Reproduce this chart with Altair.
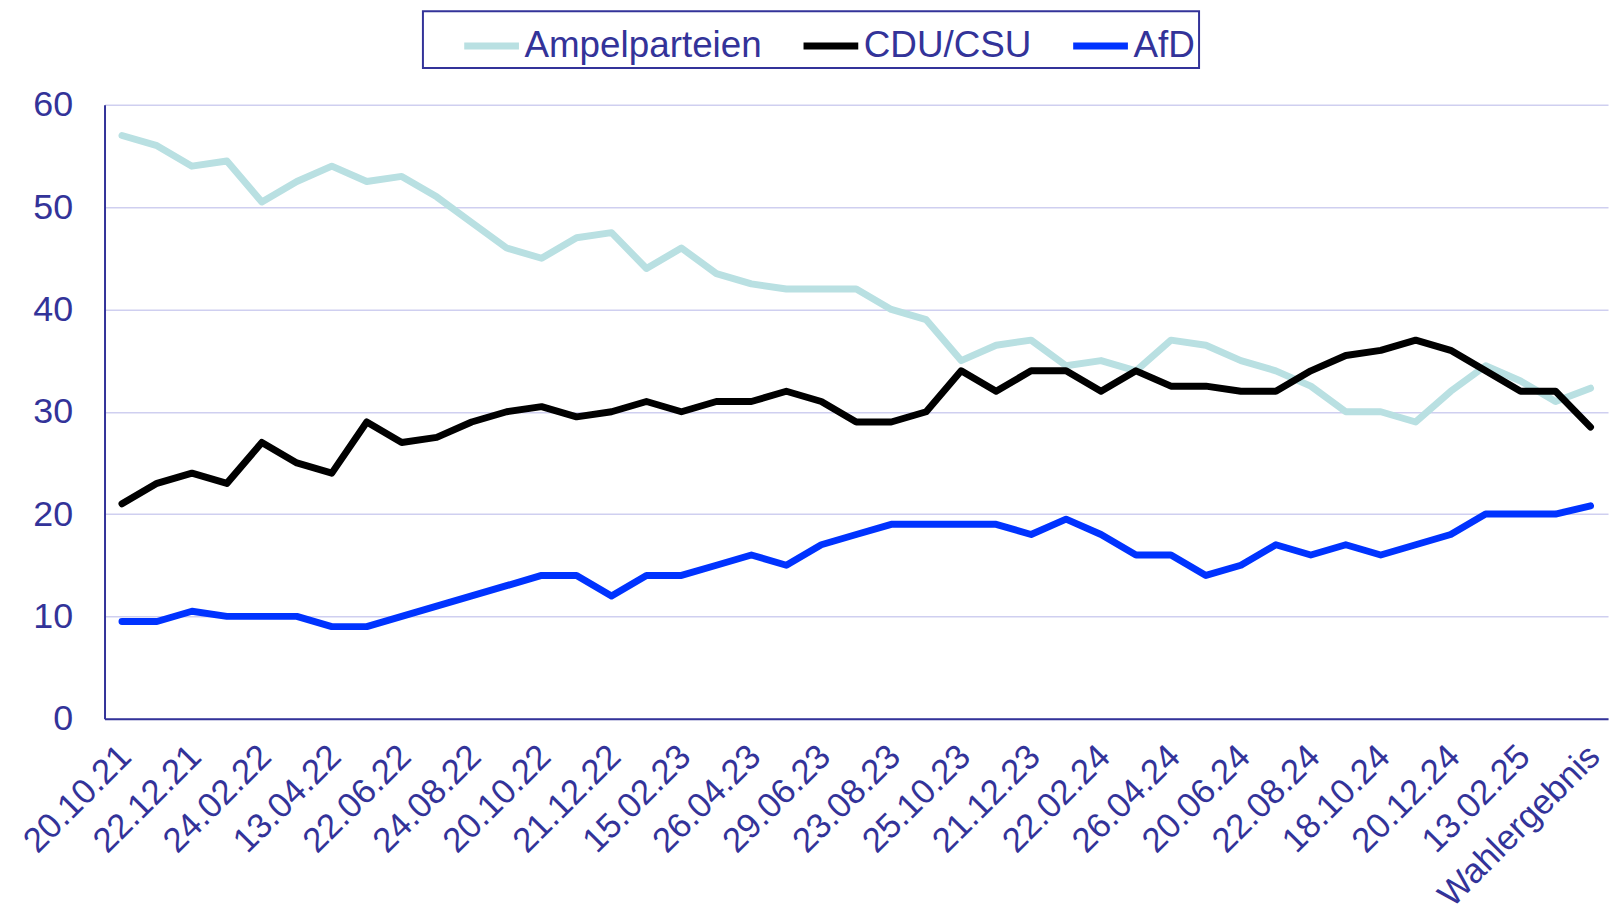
import altair as alt
import pandas as pd

tick_labels = ["20.10.21", "22.12.21", "24.02.22", "13.04.22", "22.06.22", "24.08.22",
               "20.10.22", "21.12.22", "15.02.23", "26.04.23", "29.06.23", "23.08.23",
               "25.10.23", "21.12.23", "22.02.24", "26.04.24", "20.06.24", "22.08.24",
               "18.10.24", "20.12.24", "13.02.25", "Wahlergebnis"]

ampel = [57, 56, 54, 54.5, 50.5, 52.5, 54, 52.5, 53, 51, 48.5, 46, 45, 47, 47.5, 44, 46,
         43.5, 42.5, 42, 42, 42, 40, 39, 35, 36.5, 37, 34.5, 35, 34, 37, 36.5, 35, 34,
         32.5, 30, 30, 29, 32, 34.5, 33, 31, 32.3]
cdu = [21, 23, 24, 23, 27, 25, 24, 29, 27, 27.5, 29, 30, 30.5, 29.5, 30, 31, 30, 31, 31,
       32, 31, 29, 29, 30, 34, 32, 34, 34, 32, 34, 32.5, 32.5, 32, 32, 34, 35.5, 36, 37,
       36, 34, 32, 32, 28.5]
afd = [9.5, 9.5, 10.5, 10, 10, 10, 9, 9, 10, 11, 12, 13, 14, 14, 12, 14, 14, 15, 16, 15,
       17, 18, 19, 19, 19, 19, 18, 19.5, 18, 16, 16, 14, 15, 17, 16, 17, 16, 17, 18, 20,
       20, 20, 20.8]

series_names = ["Ampelparteien", "CDU/CSU", "AfD"]
series_colors = ["#b9e0e2", "#000000", "#0033ff"]
series_values = [ampel, cdu, afd]

rows = []
for name, vals in zip(series_names, series_values):
    for i, v in enumerate(vals):
        rows.append({"idx": i, "series": name, "value": v})
df = pd.DataFrame(rows)

AXIS_COLOR = "#333399"
FONT = "Liberation Sans"
n = len(ampel)

label_js = "[" + ",".join("'" + t + "'" for t in tick_labels) + "][round(datum.value/2)]"

x_enc = alt.X(
    "idx:Q",
    scale=alt.Scale(domain=[-0.5, n - 0.5], nice=False, zero=False),
    axis=alt.Axis(
        values=list(range(0, n, 2)), labelExpr=label_js, labelAngle=-45,
        labelAlign="right", labelBaseline="middle", ticks=False, grid=False,
        domainColor=AXIS_COLOR, domainWidth=2, labelColor=AXIS_COLOR, labelFont=FONT,
        labelFontSize=35, labelPadding=32, labelOffset=3, labelFlush=False,
        labelOverlap=False, labelLimit=500, title=None,
    ),
)
y_enc = alt.Y(
    "value:Q",
    scale=alt.Scale(domain=[0, 60], nice=False),
    axis=alt.Axis(
        values=[0, 10, 20, 30, 40, 50, 60], ticks=False, grid=True, gridColor="#cfcff0",
        gridWidth=1.5, domainColor=AXIS_COLOR, domainWidth=2, labelColor=AXIS_COLOR,
        labelFont=FONT, labelFontSize=36, labelPadding=32, title=None,
    ),
)
color_enc = alt.Color(
    "series:N",
    scale=alt.Scale(domain=series_names, range=series_colors),
    sort=series_names,
    legend=alt.Legend(
        orient="none", legendX=320, legendY=-94, direction="horizontal", title=None,
        strokeColor=AXIS_COLOR, padding=4, symbolType="stroke",
        symbolSize=3025, symbolStrokeWidth=7, labelFontSize=37, labelColor=AXIS_COLOR,
        labelFont=FONT, labelLimit=500, columnPadding=4, labelOffset=2, symbolOffset=34,
    ),
)

layers = []
for name in series_names:
    layers.append(
        alt.Chart(df)
        .transform_filter(alt.datum.series == name)
        .mark_line(strokeWidth=7, strokeCap="round", strokeJoin="round")
        .encode(x=x_enc, y=y_enc, color=color_enc)
    )

chart = (
    alt.layer(*layers)
    .properties(
        width=1511, height=617,
        autosize=alt.AutoSizeParams(type="none"),
        padding={"left": 97, "top": 95, "right": 3, "bottom": 193},
    )
    .configure_view(stroke=None)
    .configure_legend(strokeWidth=2)
)

chart.save("out.html", embed_options={"renderer": "svg", "actions": False})
